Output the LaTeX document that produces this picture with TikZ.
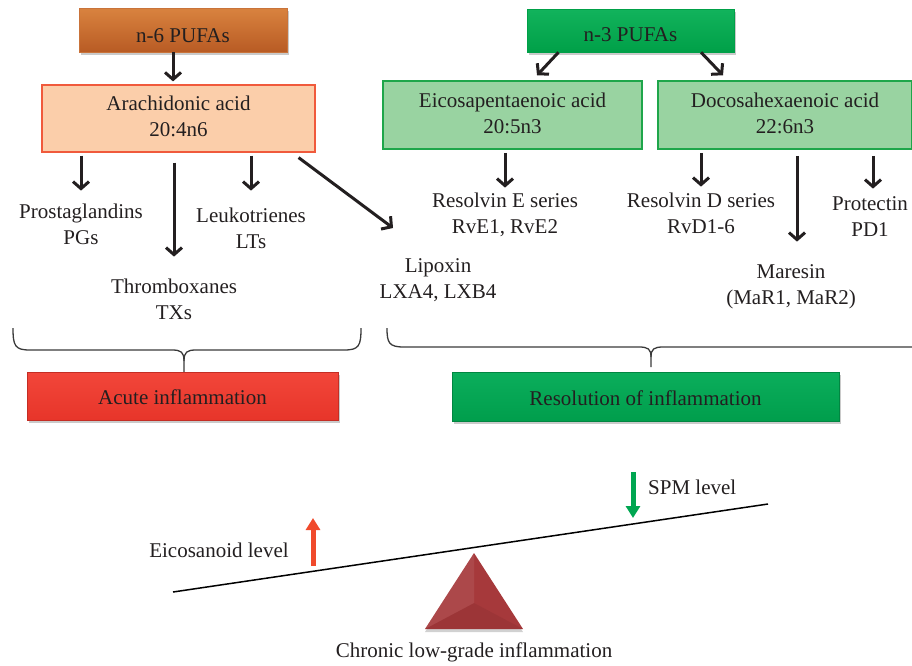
\documentclass[tikz,border=0pt]{standalone}
\usepackage{fontspec}
\setmainfont{Liberation Serif}
\usetikzlibrary{arrows.meta,shadows}
\definecolor{txt}{HTML}{231F20}
\definecolor{nsixtop}{HTML}{D9833F}
\definecolor{nsixbot}{HTML}{B85B24}
\definecolor{nsixdraw}{HTML}{C9733A}
\definecolor{arfill}{HTML}{FBCEAA}
\definecolor{ardraw}{HTML}{F05A3C}
\definecolor{nthrtop}{HTML}{12B35C}
\definecolor{nthrbot}{HTML}{00A048}
\definecolor{lgfill}{HTML}{99D3A1}
\definecolor{lgdraw}{HTML}{1EA64A}
\definecolor{acutetop}{HTML}{F2463A}
\definecolor{acutebot}{HTML}{E7352A}
\definecolor{resotop}{HTML}{0BAE5C}
\definecolor{resobot}{HTML}{009E4C}
\definecolor{trifill}{HTML}{A6393B}
\definecolor{redarr}{HTML}{F04A2C}
\definecolor{grnarr}{HTML}{00A651}
\definecolor{bracec}{HTML}{3A3A3A}
\newcommand\twoln[2]{\begin{tabular}{@{}c@{}}#1\\#2\end{tabular}}
\newcommand\twolt[2]{\begin{tabular}[t]{@{}c@{}}#1\\#2\end{tabular}}
\tikzset{
  fnt/.style={font=\fontsize{21}{26}\selectfont, text=txt},
  lbl/.style={fnt, inner sep=0pt, anchor=base},
  boxbase/.style={fnt, rectangle, inner sep=0pt},
  shad/.style={drop shadow={shadow xshift=1.5pt, shadow yshift=-2.5pt, opacity=0.35, fill=black!60}},
  arr/.style={line width=3pt, draw=txt, -{Straight Barb[length=7pt,width=16pt]}},
  bigarr/.style={line width=5pt, -{Triangle[length=12pt,width=14pt]}},
  bracep/.style={line width=1.3pt, draw=bracec},
}
\begin{document}
\begin{tikzpicture}[x=1pt,y=-1pt]
\useasboundingbox (0,0) rectangle (912,665);

% top boxes
\node[boxbase, shad, top color=nsixtop, bottom color=nsixbot, draw=nsixdraw, line width=0.6pt,
      minimum width=208pt, minimum height=44pt, text height=24pt, text depth=0pt] (n6) at (183,30) {n-6 PUFAs};
\node[boxbase, fill=arfill, draw=ardraw, line width=1.2pt,
      minimum width=273pt, minimum height=67pt] (arach) at (178.5,118.5) {\twoln{Arachidonic acid}{20:4n6}};
\node[boxbase, shad, top color=nthrtop, bottom color=nthrbot, draw=nthrbot, line width=0.6pt,
      minimum width=207pt, minimum height=43pt, text height=22pt, text depth=0pt] (n3) at (630.5,30.5) {n-3 PUFAs};
\node[boxbase, fill=lgfill, draw=lgdraw, line width=1.5pt,
      minimum width=259pt, minimum height=68pt] (epa) at (512.5,115) {\twoln{Eicosapentaenoic acid}{20:5n3}};
\node[boxbase, fill=lgfill, draw=lgdraw, line width=1.5pt,
      minimum width=254pt, minimum height=68pt] (dha) at (785,115) {\twoln{Docosahexaenoic acid}{22:6n3}};

% labels
\node[lbl] (pg) at (81,218) {\twolt{Prostaglandins}{PGs}};
\node[lbl] (lt) at (251,222) {\twolt{Leukotrienes}{LTs}};
\node[lbl] (tx) at (174,293) {\twolt{Thromboxanes}{TXs}};
\node[lbl] (lx) at (438,272) {\twolt{Lipoxin}{LXA4, LXB4}};
\node[lbl] (rve) at (505,207) {\twolt{Resolvin E series}{RvE1, RvE2}};
\node[lbl] (rvd) at (701,207) {\twolt{Resolvin D series}{RvD1-6}};
\node[lbl] (pd) at (870,210) {\twolt{Protectin}{PD1}};
\node[lbl] (mar) at (791,278) {\twolt{Maresin}{(MaR1, MaR2)}};

% arrows top
\draw[arr, shorten >=3pt] ([xshift=-10pt]n6.south) -- ([xshift=-10pt]n6.south |- arach.north);
\draw[arr] ([xshift=-72pt]n3.south) -- ([xshift=24.5pt,yshift=5pt]epa.north);
\draw[arr] ([xshift=70.5pt]n3.south) -- ([xshift=-62pt,yshift=5pt]dha.north);

\draw[arr, shorten <=3pt, shorten >=9pt] (arach.south -| pg.north) -- (pg.north);
\draw[arr, shorten <=3pt, shorten >=13pt] (arach.south -| lt.north) -- (lt.north);
\draw[arr, shorten <=10pt, shorten >=18pt] (arach.south -| tx.north) -- (tx.north);
\coordinate (lxtip) at (393,228);
\draw[arr] ([xshift=-17pt,yshift=-5pt]arach.south east) -- (lxtip);

\draw[arr, shorten <=3pt, shorten >=1pt] (epa.south -| rve.north) -- (rve.north);
\draw[arr, shorten <=3pt, shorten >=2pt] (dha.south -| rvd.north) -- (rvd.north);
\draw[arr, shorten <=6pt, shorten >=18pt] ([xshift=12pt]dha.south) -- ([xshift=12pt]dha.south |- mar.north);
\draw[arr, shorten <=6pt, shorten >=3pt] ([xshift=88pt]dha.south) -- ([xshift=88pt]dha.south |- pd.north);

% braces
\draw[bracep] (13,328) .. controls (13,346) and (15,350) .. (30,350) -- (172,350)
   .. controls (181,350) and (184,352) .. (184,361) -- (184,372);
\draw[bracep] (361,328) .. controls (361,346) and (359,350) .. (344,350) -- (196,350)
   .. controls (187,350) and (184,352) .. (184,361);
\draw[bracep] (387,328) .. controls (387,343) and (389,347) .. (404,347) -- (639,347)
   .. controls (648,347) and (651,349) .. (651,357) -- (651,367);
\draw[bracep] (912,347) -- (663,347)
   .. controls (654,347) and (651,349) .. (651,357);

% inflammation boxes
\node[boxbase, shad, top color=acutetop, bottom color=acutebot, draw=acutebot!85!black, line width=0.6pt,
      minimum width=311pt, minimum height=48pt, text height=16pt, text depth=0pt] (acute) at (182.5,396) {Acute inflammation};
\node[boxbase, shad, top color=resotop, bottom color=resobot, draw=resobot!85!black, line width=0.6pt,
      minimum width=387pt, minimum height=49pt, text height=17pt, text depth=0pt] (reso) at (645.5,396.5) {Resolution of inflammation};

% seesaw
\coordinate (sl) at (173,592);
\coordinate (sr) at (768,504);
\draw[line width=1.5pt, draw=black] (sl) -- (sr);
\fill[trifill, drop shadow={shadow xshift=0pt, shadow yshift=-3pt, opacity=0.3, fill=black!60}]
   (474,553) -- (523,629) -- (425,629) -- cycle;
\fill[white, opacity=0.08] (474,553) -- (474,603) -- (425,629) -- cycle;
\fill[black, opacity=0.06] (474,603) -- (523,629) -- (425,629) -- cycle;

\coordinate (rb) at (313,566);
\coordinate (rt) at (313,518);
\draw[bigarr, draw=redarr, fill=redarr] (rb) -- (rt);
\coordinate (gt) at (633,472);
\coordinate (gb) at (633,518);
\draw[bigarr, draw=grnarr, fill=grnarr] (gt) -- (gb);

\node[lbl] (eico) at (219,557) {Eicosanoid level};
\node[lbl, anchor=base west] (spm) at (648,494) {SPM level};
\node[lbl] (chronic) at (474,657) {Chronic low-grade inflammation};
\end{tikzpicture}
\end{document}
